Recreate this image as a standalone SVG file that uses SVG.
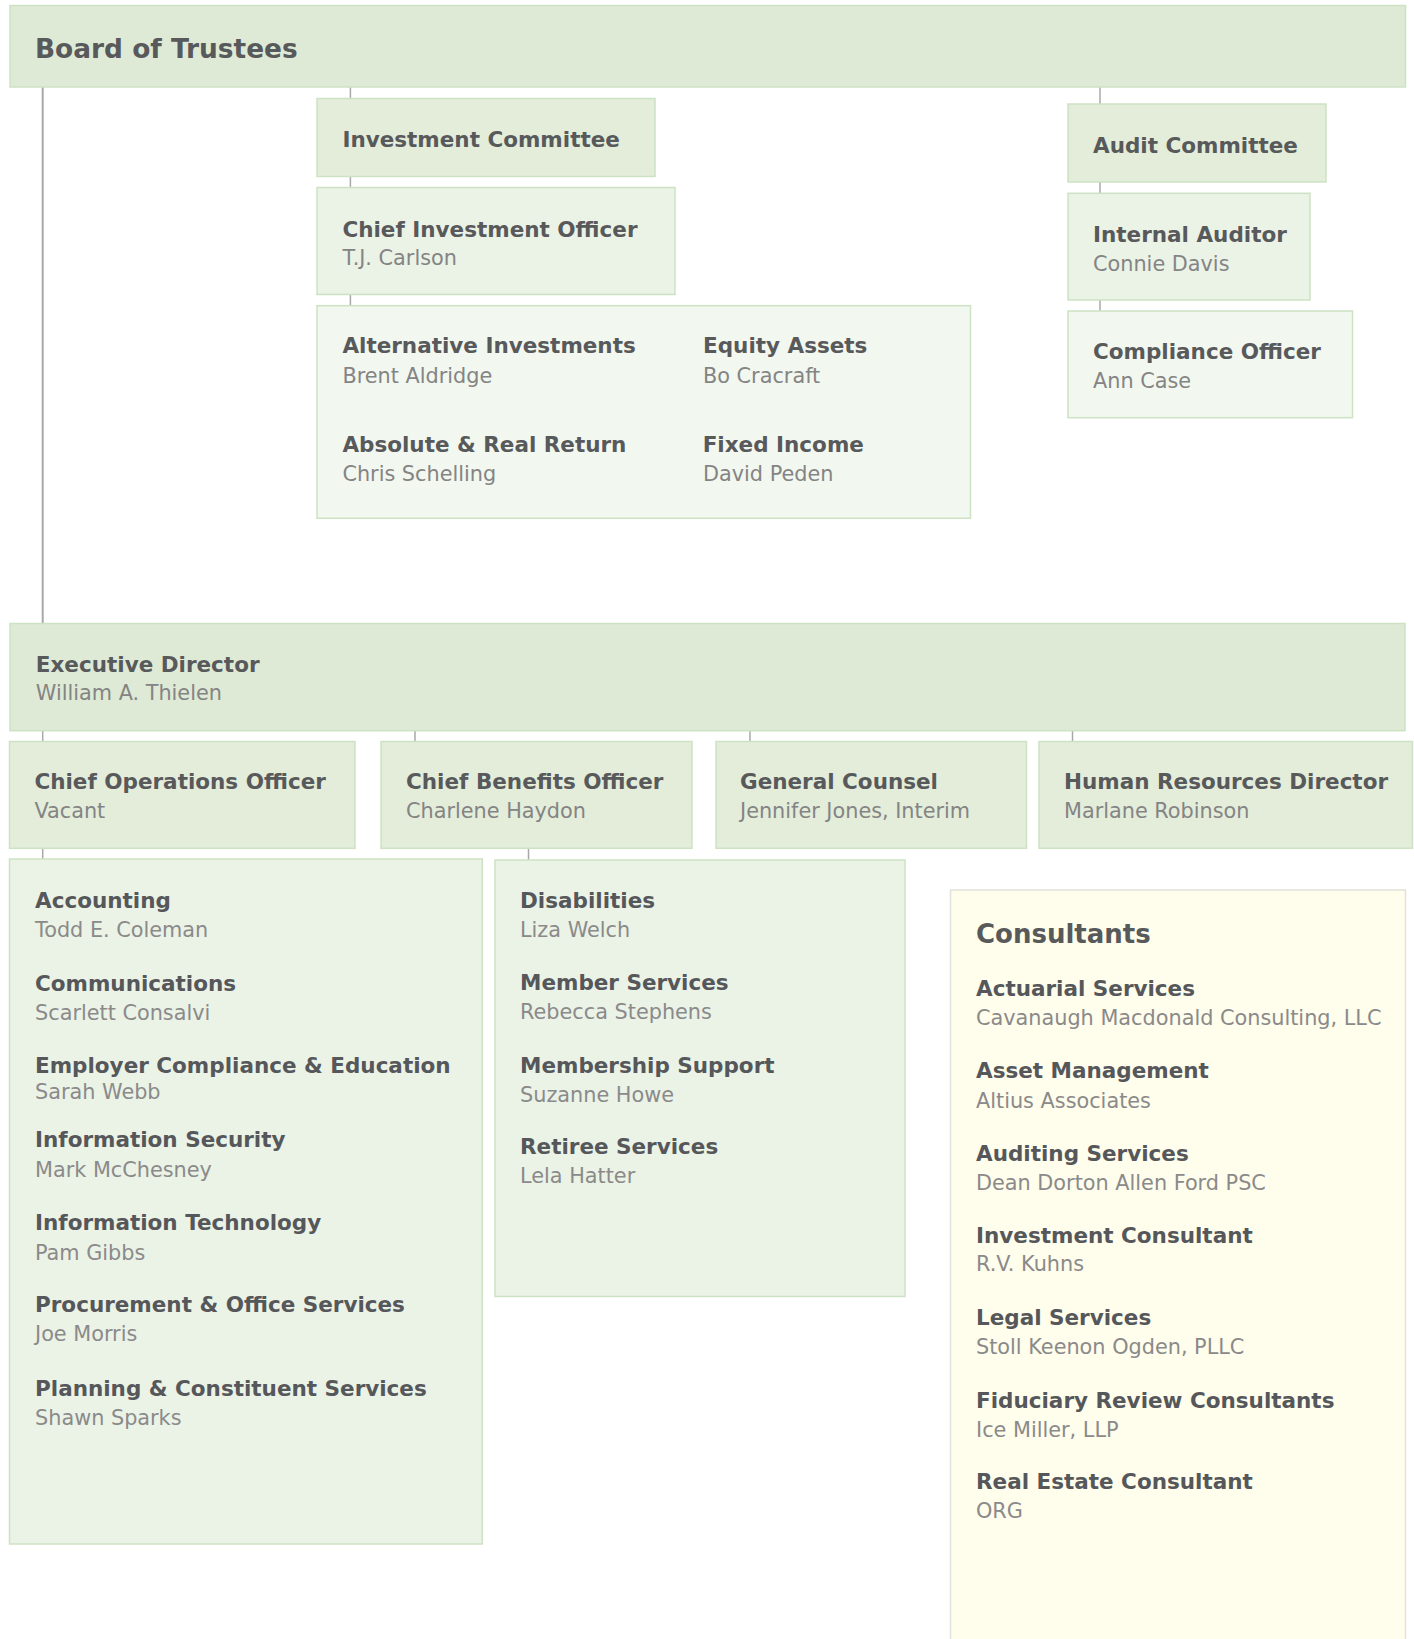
<svg xmlns="http://www.w3.org/2000/svg" width="1414" height="1639" viewBox="0 0 1414 1639">
<style>
.t{font-family:"DejaVu Sans","Liberation Sans",sans-serif;font-weight:bold;font-size:21.5px;fill:#58595b}
.n{font-family:"DejaVu Sans","Liberation Sans",sans-serif;font-size:20.8px;fill:#848484}
.bt{font-family:"DejaVu Sans","Liberation Sans",sans-serif;font-weight:bold;font-size:21.5px;fill:#55575a}
.bn{font-family:"DejaVu Sans","Liberation Sans",sans-serif;font-size:20.8px;fill:#8a8a8a}
.big{font-family:"DejaVu Sans","Liberation Sans",sans-serif;font-weight:bold;font-size:26.4px;fill:#58595b}
.l1{fill:#deead5;stroke:#cde2c4;stroke-width:1.5}
.l2{fill:#e3edda;stroke:#cde2c4;stroke-width:1.5}
.l3{fill:#ebf2e6;stroke:#cde2c4;stroke-width:1.5}
.l4{fill:#f2f7ef;stroke:#cde2c4;stroke-width:1.5}
.cons{fill:#fffdeb;stroke:#e2e2dc;stroke-width:1.5}
.c{stroke:#a8a8a8;stroke-width:1.5;fill:none}
</style>
<rect width="1414" height="1639" fill="#ffffff"/>
<g id="connectors">
<line class="c" x1="42.7" y1="87" x2="42.7" y2="623" style="stroke-width:2"/>
<line class="c" x1="350.4" y1="87" x2="350.4" y2="98"/>
<line class="c" x1="350.4" y1="177" x2="350.4" y2="187"/>
<line class="c" x1="350.4" y1="294" x2="350.4" y2="306"/>
<line class="c" x1="1100" y1="87" x2="1100" y2="104"/>
<line class="c" x1="1100" y1="182" x2="1100" y2="193"/>
<line class="c" x1="1100" y1="300" x2="1100" y2="311"/>
<line class="c" x1="42.7" y1="731" x2="42.7" y2="741"/>
<line class="c" x1="415" y1="731" x2="415" y2="741"/>
<line class="c" x1="750" y1="731" x2="750" y2="741"/>
<line class="c" x1="1072.5" y1="731" x2="1072.5" y2="741"/>
<line class="c" x1="42.7" y1="848" x2="42.7" y2="859"/>
<line class="c" x1="528.5" y1="848" x2="528.5" y2="860"/>
</g>
<g id="board">
<rect class="l1" x="10" y="5.5" width="1395.5" height="81.5"/>
<text class="big" x="35" y="58">Board of Trustees</text>
</g>
<g id="investment-committee">
<rect class="l2" x="317" y="98.5" width="338" height="78"/>
<text class="t" x="342.4" y="146.7">Investment Committee</text>
</g>
<g id="cio">
<rect class="l3" x="317" y="187.5" width="358" height="107"/>
<text class="t" x="342.4" y="236.7">Chief Investment Officer</text>
<text class="n" x="342.4" y="265">T.J. Carlson</text>
</g>
<g id="investments">
<rect class="l4" x="317" y="305.7" width="653.5" height="212.5"/>
<text class="t" x="342.4" y="353.3">Alternative Investments</text>
<text class="n" x="342.4" y="382.7">Brent Aldridge</text>
<text class="t" x="342.4" y="451.7">Absolute &amp; Real Return</text>
<text class="n" x="342.4" y="480.7">Chris Schelling</text>
<text class="t" x="703" y="353.3">Equity Assets</text>
<text class="n" x="703" y="382.7">Bo Cracraft</text>
<text class="t" x="702.7" y="451.7">Fixed Income</text>
<text class="n" x="703" y="480.7">David Peden</text>
</g>
<g id="audit-committee">
<rect class="l2" x="1068" y="104" width="258" height="78"/>
<text class="t" x="1093" y="152.7">Audit Committee</text>
</g>
<g id="internal-auditor">
<rect class="l3" x="1068" y="193.3" width="242" height="106.7"/>
<text class="t" x="1093" y="241.7">Internal Auditor</text>
<text class="n" x="1093" y="270.7">Connie Davis</text>
</g>
<g id="compliance-officer">
<rect class="l4" x="1068" y="311" width="284.5" height="106.7"/>
<text class="t" x="1093" y="359.3">Compliance Officer</text>
<text class="n" x="1093" y="388.3">Ann Case</text>
</g>
<g id="executive-director">
<rect class="l1" x="10" y="623.5" width="1395" height="107.2"/>
<text class="t" x="35.8" y="671.5">Executive Director</text>
<text class="n" x="35.8" y="700">William A. Thielen</text>
</g>
<g id="coo">
<rect class="l2" x="9.5" y="741.5" width="345.5" height="106.8"/>
<text class="t" x="34.4" y="789.3">Chief Operations Officer</text>
<text class="n" x="34.4" y="818.3">Vacant</text>
</g>
<g id="cbo">
<rect class="l2" x="381" y="741.5" width="311" height="106.8"/>
<text class="t" x="406" y="789.3">Chief Benefits Officer</text>
<text class="n" x="406" y="818.3">Charlene Haydon</text>
</g>
<g id="general-counsel">
<rect class="l2" x="716" y="741.5" width="310.5" height="106.8"/>
<text class="t" x="740" y="789.3">General Counsel</text>
<text class="n" x="740" y="818.3">Jennifer Jones, Interim</text>
</g>
<g id="hr-director">
<rect class="l2" x="1039" y="741.5" width="373.5" height="106.8"/>
<text class="t" x="1064" y="789.3">Human Resources Director</text>
<text class="n" x="1064" y="818.3">Marlane Robinson</text>
</g>
<g id="operations-departments">
<rect class="l3" x="9.5" y="859" width="472.8" height="685"/>
<text class="bt" x="35" y="908">Accounting</text>
<text class="bn" x="35" y="937">Todd E. Coleman</text>
<text class="bt" x="35" y="990.6">Communications</text>
<text class="bn" x="35" y="1019.6">Scarlett Consalvi</text>
<text class="bt" x="35" y="1073">Employer Compliance &amp; Education</text>
<text class="bn" x="35" y="1099">Sarah Webb</text>
<text class="bt" x="35" y="1147">Information Security</text>
<text class="bn" x="35" y="1177">Mark McChesney</text>
<text class="bt" x="35" y="1230">Information Technology</text>
<text class="bn" x="35" y="1260">Pam Gibbs</text>
<text class="bt" x="35" y="1312">Procurement &amp; Office Services</text>
<text class="bn" x="35" y="1341">Joe Morris</text>
<text class="bt" x="35" y="1395.5">Planning &amp; Constituent Services</text>
<text class="bn" x="35" y="1425">Shawn Sparks</text>
</g>
<g id="benefits-departments">
<rect class="l3" x="495" y="860" width="410" height="436.5"/>
<text class="bt" x="520" y="908.3">Disabilities</text>
<text class="bn" x="520" y="937.3">Liza Welch</text>
<text class="bt" x="520" y="990">Member Services</text>
<text class="bn" x="520" y="1019.3">Rebecca Stephens</text>
<text class="bt" x="520" y="1072.7">Membership Support</text>
<text class="bn" x="520" y="1102.3">Suzanne Howe</text>
<text class="bt" x="520" y="1154.3">Retiree Services</text>
<text class="bn" x="520" y="1183.3">Lela Hatter</text>
</g>
<g id="consultants">
<rect class="cons" x="950.5" y="890" width="455" height="760"/>
<text class="big" x="976" y="942.5" style="font-size:26px">Consultants</text>
<text class="bt" x="976" y="995.5">Actuarial Services</text>
<text class="bn" x="976" y="1025">Cavanaugh Macdonald Consulting, LLC</text>
<text class="bt" x="976" y="1078">Asset Management</text>
<text class="bn" x="976" y="1107.5">Altius Associates</text>
<text class="bt" x="976" y="1160.5">Auditing Services</text>
<text class="bn" x="976" y="1190">Dean Dorton Allen Ford PSC</text>
<text class="bt" x="976" y="1242.5">Investment Consultant</text>
<text class="bn" x="976" y="1271">R.V. Kuhns</text>
<text class="bt" x="976" y="1325">Legal Services</text>
<text class="bn" x="976" y="1354">Stoll Keenon Ogden, PLLC</text>
<text class="bt" x="976" y="1407.5">Fiduciary Review Consultants</text>
<text class="bn" x="976" y="1436.5">Ice Miller, LLP</text>
<text class="bt" x="976" y="1489">Real Estate Consultant</text>
<text class="bn" x="976" y="1518">ORG</text>
</g>
</svg>
